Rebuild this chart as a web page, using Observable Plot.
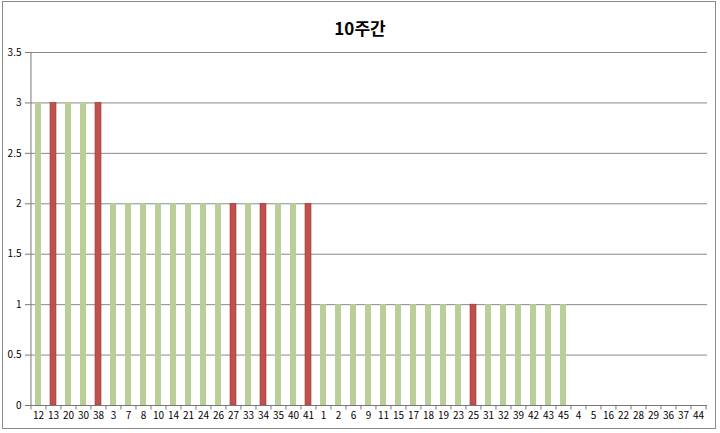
<!DOCTYPE html>
<html>
<head>
<meta charset="utf-8">
<script src="https://cdn.jsdelivr.net/npm/d3@7"></script>
<script src="https://cdn.jsdelivr.net/npm/@observablehq/plot@0.6"></script>
<style>
  html, body { margin: 0; padding: 0; background: #fff; }
  #wrap { position: relative; width: 720px; height: 433px; overflow: hidden; font-family: "Noto Sans CJK KR", "Noto Sans", sans-serif; }
  #border { position: absolute; left: 2px; top: 1px; width: 714px; height: 428px; border: 1px solid #8a8a8a; box-sizing: border-box; pointer-events: none; }
  #title { height: 44px; box-sizing: border-box; padding-top: 17px; line-height: 22px; text-align: center; font-size: 17px; font-weight: bold; color: #000; }
  #plot svg { display: block; }
</style>
</head>
<body>
<div id="wrap">
  <div id="title">10주간</div>
  <div id="plot"></div>
  <div id="border"></div>
</div>
<script>
const categories = ["12","13","20","30","38","3","7","8","10","14","21","24","26","27","33","34","35","40","41","1","2","6","9","11","15","17","18","19","23","25","31","32","39","42","43","45","4","5","16","22","28","29","36","37","44"];
const values = [3,3,3,3,3, 2,2,2,2,2,2,2,2,2,2,2,2,2,2, 1,1,1,1,1,1,1,1,1,1,1,1,1,1,1,1,1, 0,0,0,0,0,0,0,0,0];
const highlighted = ["13","38","27","34","41","25"];
const yTicks = [0,0.5,1,1.5,2,2.5,3,3.5];

const data = categories.map((c, i) => ({cat: c, value: values[i], hi: highlighted.includes(c)}));

const W = 720, H = 389, ML = 29, MR = 13, MT = 8, MB = 28;
const step = (W - ML - MR) / categories.length;

const chart = Plot.plot({
  width: W, height: H,
  marginLeft: ML, marginRight: MR, marginTop: MT, marginBottom: MB,
  style: {fontFamily: '"Noto Sans CJK KR", "Noto Sans", sans-serif', fontSize: "10px", color: "#000", background: "#fff"},
  x: {domain: categories, paddingInner: 0.6, paddingOuter: 0.3, label: null},
  y: {domain: [0, 3.5], label: null},
  marks: [
    Plot.ruleY(yTicks.filter(d => d > 0), {stroke: "#8a8a8a", strokeWidth: 1, strokeOpacity: 1}),
    Plot.barY(data, {x: "cat", y: "value", fill: d => d.hi ? "#C0504D" : "#BACF97", stroke: d => d.hi ? "#9B3A37" : "none", strokeWidth: 0.6}),
    Plot.ruleY([0], {stroke: "#777", strokeWidth: 1}),
    Plot.ruleX([categories[0]], {y1: 0, y2: 3.5, dx: -step / 2, stroke: "#777", strokeWidth: 1}),
    Plot.ruleX(categories, {y1: 0, y2: -0.045, dx: -step / 2, stroke: "#777", strokeWidth: 1}),
    Plot.ruleX([categories[categories.length - 1]], {y1: 0, y2: -0.045, dx: step / 2, stroke: "#777", strokeWidth: 1}),
    Plot.axisY(yTicks, {tickSize: 4, tickPadding: 4, tickFormat: d => String(d), stroke: "#777", fill: "#000", fontSize: 10}),
    Plot.axisX({tickSize: 0, tickPadding: 6, fill: "#000", fontSize: 10})
  ]
});
document.getElementById("plot").appendChild(chart);
</script>
</body>
</html>
